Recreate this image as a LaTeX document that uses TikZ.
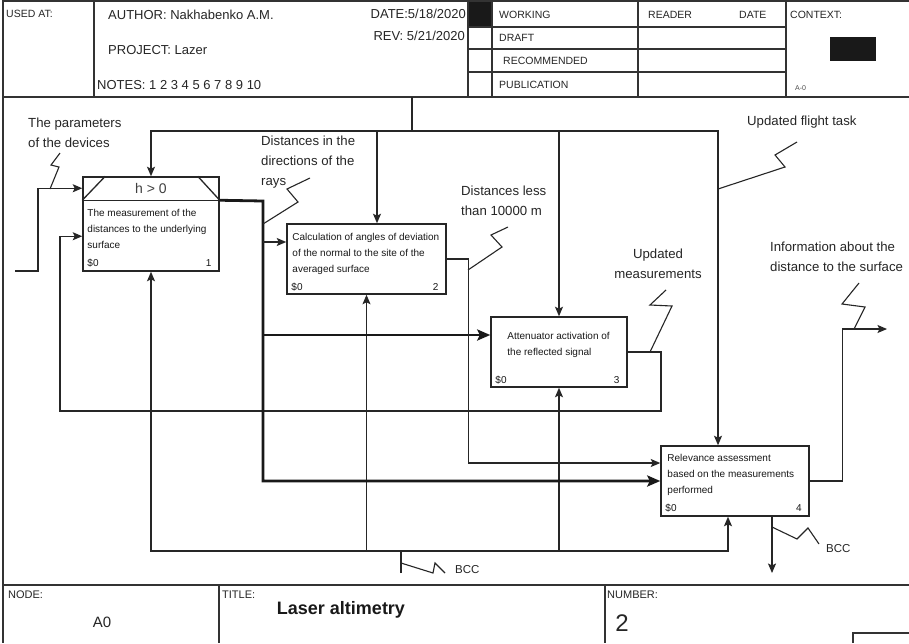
\documentclass[tikz,border=0pt]{standalone}
\usepackage{fontspec}
\setmainfont{Liberation Sans}
\usetikzlibrary{arrows.meta}

\begin{document}
\begin{tikzpicture}[x=1pt,y=-1pt,
  fr/.style={draw=black!80,line width=1.5pt},
  fn/.style={draw=black!80,line width=1.1pt},
  hd/.style={font=\fontsize{13}{15}\selectfont,inner sep=0pt,text=black!85},
  sm/.style={font=\fontsize{10.5}{12}\selectfont,inner sep=0pt,text=black!85},
  ft/.style={font=\fontsize{11}{13}\selectfont,inner sep=0pt,text=black!85},
  act/.style={rectangle,draw=black!85,line width=1.5pt,inner sep=0pt,fill=white},
  bt/.style={font=\fontsize{10}{16}\selectfont,inner sep=0pt,align=left,text=black!90},
  lb/.style={font=\fontsize{13.2}{20}\selectfont,inner sep=0pt,align=left,text=black!85},
  ln/.style={draw=black!85,line width=1.3pt},
  ar/.style={ln,-{Stealth[length=9.5pt,width=8pt,inset=2pt]}},
  th/.style={draw=black!90,line width=2.8pt},
  tha/.style={th,-{Stealth[length=13pt,width=11pt,inset=2.5pt]}},
  sq/.style={draw=black!85,line width=1.1pt}]
\fill[white] (0,0) rectangle (909,643);
\useasboundingbox (0,0) rectangle (909,643);
\begin{scope}
 \draw[fr] (909,1) -- (3,1) -- (3,643); \draw[fr] (3,97) -- (909,97); \draw[fr] (3,585) -- (909,585);
 \draw[fn] (94,1) -- (94,97) (468,1) -- (468,97) (492,1) -- (492,97) (638,1) -- (638,97) (786,1) -- (786,97);
 \draw[fn] (468,27) -- (786,27) (468,49) -- (786,49) (468,72) -- (786,72);
 \fill[black!90] (469,2) rectangle (491,26); \fill[black!90] (830,37) rectangle (876,61);
 \node[sm,anchor=west] (usedat) at (6,14) {USED AT:};
 \node[hd,anchor=west] (author) at (108,15) {AUTHOR: Nakhabenko A.M.};
 \node[hd,anchor=west] (project) at (108,50) {PROJECT: Lazer};
 \node[hd,anchor=west] (notes) at (97,85) {NOTES: 1 2 3 4 5 6 7 8 9 10};
 \node[hd,anchor=east] (date) at (466,14) {DATE:5/18/2020};
 \node[hd,anchor=east] (rev) at (465,36) {REV: 5/21/2020};
 \node[sm,anchor=west] (working) at (499,15) {WORKING}; \node[sm,anchor=west] (draft) at (499,38) {DRAFT};
 \node[sm,anchor=west] (recom) at (503,61) {RECOMMENDED}; \node[sm,anchor=west] (publ) at (499,85) {PUBLICATION};
 \node[sm,anchor=west] (reader) at (648,15) {READER}; \node[sm,anchor=west] (rdate) at (739,15) {DATE};
 \node[sm,anchor=west] (context) at (790,15) {CONTEXT:};
 \node[font=\fontsize{7}{8}\selectfont,inner sep=0pt,anchor=west,text=black!70] (ctxnum) at (795,88) {A-0};
\end{scope}
\begin{scope}
 \node[act,minimum width=136pt,minimum height=94pt] (b1) at (151,224) {};
 \node[act,minimum width=159pt,minimum height=70pt] (b2) at (366.5,259) {};
 \node[act,minimum width=136pt,minimum height=70pt] (b3) at (559,352) {};
 \node[act,minimum width=148pt,minimum height=70pt] (b4) at (735,481) {};
 \draw[ln] ([yshift=-24pt]b1.north west) -- ([yshift=-24pt]b1.north east);
 \draw[ln] ([yshift=-24pt]b1.north west) -- ([xshift=23pt]b1.north west); \draw[ln] ([xshift=-22pt]b1.north east) -- ([yshift=-24pt]b1.north east);
 \node[font=\fontsize{14}{16}\selectfont,inner sep=0pt,text=black!75] (cond) at ([yshift=-12pt]b1.north) {h > 0};
 \node[bt,anchor=north west] (t1) at ([shift={(5pt,-33pt)}]b1.north west) {The measurement of the\\distances to the underlying\\surface};
 \node[bt,anchor=north west] (t2) at ([shift={(6pt,-10pt)}]b2.north west) {Calculation of angles of deviation\\of the normal to the site of the\\averaged surface};
 \node[bt,anchor=north west] (t3) at ([shift={(17pt,-16pt)}]b3.north west) {Attenuator activation of\\the reflected signal};
 \node[bt,anchor=north west] (t4) at ([shift={(7pt,-9pt)}]b4.north west) {Relevance assessment\\based on the measurements\\performed};
 \node[bt,anchor=base west] (c1) at ([shift={(5pt,5pt)}]b1.south west) {\$0}; \node[bt,anchor=base east] (n1) at ([shift={(-8pt,5pt)}]b1.south east) {1};
 \node[bt,anchor=base west] (c2) at ([shift={(5pt,4.5pt)}]b2.south west) {\$0}; \node[bt,anchor=base east] (n2) at ([shift={(-8pt,4.5pt)}]b2.south east) {2};
 \node[bt,anchor=base west] (c3) at ([shift={(5pt,4.5pt)}]b3.south west) {\$0}; \node[bt,anchor=base east] (n3) at ([shift={(-8pt,4.5pt)}]b3.south east) {3};
 \node[bt,anchor=base west] (c4) at ([shift={(5pt,5pt)}]b4.south west) {\$0}; \node[bt,anchor=base east] (n4) at ([shift={(-8pt,5pt)}]b4.south east) {4};
 \coordinate (ctop) at (412,97); \coordinate (cj) at (412,131);
 \draw[ln] (ctop) -- (cj);
 \draw[ar] (cj) -| (b1.north); \draw[ar] (cj) -| ([xshift=10.5pt]b2.north);
 \draw[ar] (cj) -| (b3.north); \draw[ar] (cj) -| ([xshift=-17pt]b4.north);
 \coordinate (mb) at (401,573); \coordinate (mj) at (401,551);
 \draw[ln] (mb) -- (mj);
 \draw[ar] (mj) -| (b1.south); \draw[ar] (mj) -| (b2.south);
 \draw[ar] (mj) -| (b3.south); \draw[ar] (mj) -| ([xshift=-7pt]b4.south);
 \coordinate (pin) at (15,271);
 \draw[ar] (pin) -- ++(23,0) |- ([yshift=-12pt]b1.north west);
 \coordinate (lp) at (661,411);
 \draw[ar] (b3.east) -| (lp) -- ++(-601,0) |- ([yshift=-60pt]b1.north west);
 \coordinate (tb) at (263,201); \coordinate (i2) at ([yshift=17pt]b2.west);
 \coordinate (i3) at ([yshift=17pt]b3.west); \coordinate (i4) at ([yshift=18pt]b4.west);
 \draw[tha] ([yshift=-24pt]b1.north east) -- (tb) |- (b4.west);
 \draw[tha] (tb |- i3) -- (i3); \draw[ar] (tb |- i2) -- (i2);
 \draw[ar] (b2.east) -- ++(22,0) |- (i4);
 \coordinate (o4) at (887,329); \coordinate (co) at (772,573);
 \draw[ar] (b4.east) -- ++(33,0) |- (o4);
 \draw[ar] ([xshift=37pt]b4.south) -- (co);
 \node[lb,anchor=west] (lpar) at (28,133) {The parameters\\of the devices};
 \draw[sq] (50,189) -- (59,167) -- (51,165) -- (60,153);
 \node[lb,anchor=west] (lray) at (261,162) {Distances in the\\directions of the\\rays};
 \draw[sq] (263,224) -- (298,202) -- (287,189) -- (310,178);
 \node[lb,anchor=west] (lless) at (461,201) {Distances less\\than 10000 m};
 \draw[sq] (468,270) -- (502,247) -- (491,235) -- (508,227);
 \node[lb,align=center] (lupd) at (658,264) {Updated\\measurements};
 \draw[sq] (650,352) -- (672,306) -- (650,305) -- (666,290);
 \node[lb,anchor=west] (ltask) at (747,122) {Updated flight task};
 \draw[sq] (718,189) -- (785,167) -- (775,155) -- (797,142);
 \node[lb,anchor=west] (linfo) at (770,257) {Information about the\\distance to the surface};
 \draw[sq] (854,329) -- (865,307) -- (842,304) -- (859,283);
 \node[ft,anchor=west,font=\fontsize{11.5}{13}\selectfont] (lbcc1) at (455,570) {BCC};
 \draw[sq] (401,563) -- (433,573) -- (435,563) -- (445,573);
 \node[ft,anchor=west,font=\fontsize{11.5}{13}\selectfont] (lbcc2) at (826,549) {BCC};
 \draw[sq] (772,527) -- (797,539) -- (808,528) -- (819,544);
\end{scope}
\begin{scope}
 \draw[fr] (219,585) -- (219,643) (605,585) -- (605,643);
 \draw[fn] (853,643) -- (853,633) -- (909,633);
 \node[ft,anchor=west] (nodelbl) at (8,595) {NODE:};
 \node[font=\fontsize{15}{17}\selectfont,inner sep=0pt,text=black!85] (nodeval) at (102,622) {A0};
 \node[ft,anchor=west] (titlelbl) at (222,595) {TITLE:};
 \node[font=\bfseries\fontsize{18}{20}\selectfont,inner sep=0pt,text=black!90] (titleval) at (341,610) {Laser altimetry};
 \node[ft,anchor=west] (numlbl) at (607,595) {NUMBER:};
 \node[font=\fontsize{24}{26}\selectfont,inner sep=0pt,text=black!85] (numval) at (622,623) {2};
\end{scope}
\end{tikzpicture}
\end{document}
